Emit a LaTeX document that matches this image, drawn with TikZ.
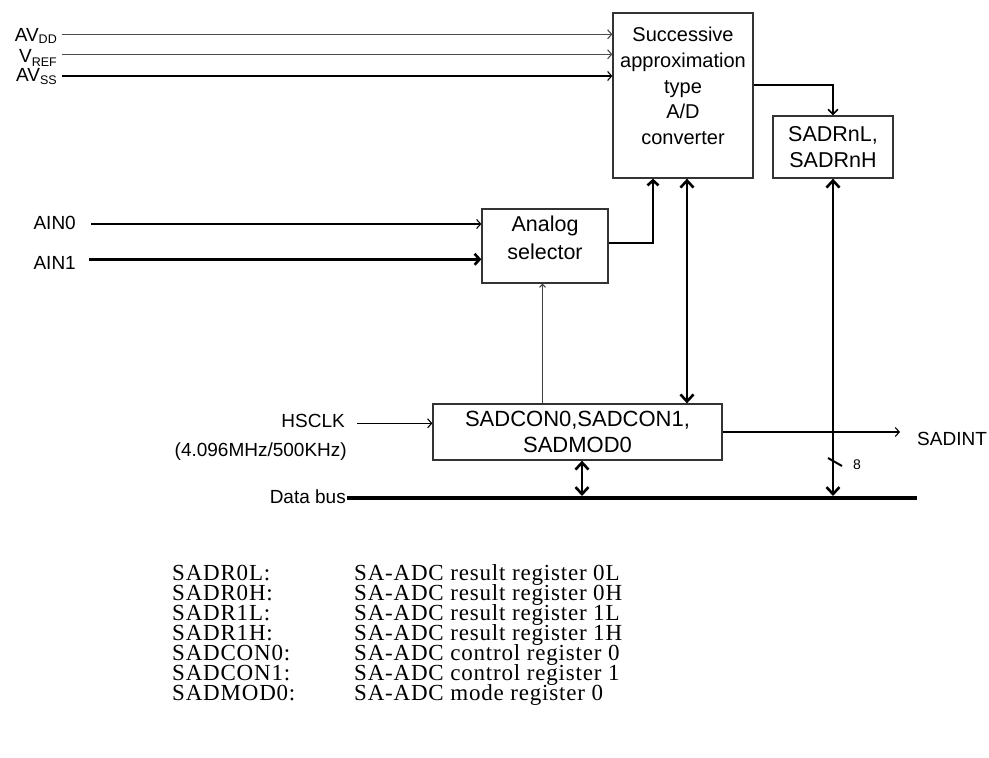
\documentclass[tikz,border=0pt]{standalone}
\usepackage{fontspec}
\setmainfont{Liberation Sans}
\newfontfamily\legendfont[LetterSpace=3.5]{Liberation Serif}
\usetikzlibrary{arrows.meta}
\newcommand\legstyle{\legendfont\fontsize{23}{20}\selectfont\lineskiplimit=-40pt\relax\lineskip=0pt\relax}
\newcommand\legrow[2]{\makebox[182pt][l]{#1}#2}
\begin{document}
\begin{tikzpicture}[x=1pt,y=-1pt,
  box/.style={draw=black!80, line width=1.3pt, inner sep=0pt},
  thinarr/.style={line width=1.1pt, -{Straight Barb[length=4pt,width=9pt]}},
  thickarr/.style={line width=2.6pt, -{Straight Barb[length=5pt,width=11pt]}},
  dblarr/.style={line width=2.6pt, {Straight Barb[length=7pt,width=13pt]}-{Straight Barb[length=7pt,width=13pt]}},
  lbl/.style={inner sep=0pt, font=\fontsize{19}{22}\selectfont},
  leg/.style={inner sep=0pt, anchor=north west, align=left, font=\legstyle},
]
\useasboundingbox (0,0) rectangle (989,758);

% boxes
\node[box, minimum width=140pt, minimum height=165pt] (adc) at (683,95.5) {};
\node[align=center, inner sep=0pt, font=\fontsize{20}{25.7}\selectfont] (adct) at (683,86)
  {Successive\\approximation\\type\\A/D\\converter};
\node[box, minimum width=120pt, minimum height=62pt, align=center,
  font=\fontsize{21.5}{26}\selectfont] (sadr) at (833,147) {SADRnL,\\SADRnH};
\node[box, minimum width=126pt, minimum height=74pt] (sel) at (545,246) {};
\node[align=center, inner sep=0pt, font=\fontsize{21.5}{28}\selectfont] (selt) at (545,238)
  {Analog\\selector};
\node[box, minimum width=289pt, minimum height=56pt, align=center,
  font=\fontsize{22}{26.7}\selectfont] (con) at (577.5,432) {SADCON0,SADCON1,\\SADMOD0};

% left labels
\node[lbl, anchor=base east] (avdd) at (57,41.7) {AV\raisebox{-2pt}{\fontsize{12.5}{12.5}\selectfont DD}};
\node[lbl, anchor=base east] (vref) at (57,62.7) {V\raisebox{-4pt}{\fontsize{12.5}{12.5}\selectfont REF}};
\node[lbl, anchor=base east] (avss) at (57,81.7) {AV\raisebox{-2.5pt}{\fontsize{12.5}{12.5}\selectfont SS}};
\coordinate (avddL) at (62,34.3);
\coordinate (vrefL) at (62,54.3);
\coordinate (avssL) at (62,76);
\draw[thinarr, draw=black!70] (avddL) -- (avddL -| adc.west);
\draw[thinarr, draw=black!70] (vrefL) -- (vrefL -| adc.west);
\draw[thinarr] (avssL) -- (avssL -| adc.west);

\node[lbl, anchor=base east] (ain0) at (76,229.3) {AIN0};
\node[lbl, anchor=base east] (ain1) at (76,269) {AIN1};
\coordinate (ain0L) at (91,224);
\coordinate (ain1L) at (89,259.3);
\draw[thinarr] (ain0L) -- (ain0L -| sel.west);
\draw[thickarr] (ain1L) -- (ain1L -| sel.west);

\node[lbl, anchor=base east] (hsclk) at (345,427.3) {HSCLK};
\node[lbl, anchor=base east] (freq) at (347,456) {(4.096MHz/500KHz)};
\coordinate (hsL) at (357,423.3);
\draw[thinarr] (hsL) -- (hsL -| con.west);

\node[lbl, anchor=base east] (dbus) at (346,503.3) {Data bus};
\coordinate (busL) at (347,498);
\coordinate (busR) at (917,498);
\draw[line width=4pt] (busL) -- (busR);

\node[lbl, anchor=base west] (sadint) at (917,445) {SADINT};
\draw[thinarr] (con.east) -- ([xshift=-17pt]sadint.west |- con.east);

% internal connections
\draw[thickarr] ([yshift=3pt]sel.east) -| ([xshift=-30pt]adc.south);
\draw[dblarr] ([xshift=4pt]adc.south) -- ([xshift=4pt]adc.south |- con.north);
\draw[line width=1.5pt, -{Straight Barb[length=5pt,width=10pt]}] ([yshift=10.5pt]adc.east) -| (sadr.north);
\draw[line width=1pt, draw=black!75, -{Straight Barb[length=3pt,width=6pt]}] ([xshift=-35pt]con.north) -- ([xshift=-35pt]con.north |- sel.south);
\draw[dblarr, shorten >=2pt] ([xshift=4.5pt]con.south) -- ([xshift=4.5pt]con.south |- busL);
\draw[dblarr, shorten >=2pt] (sadr.south) -- (sadr.south |- busL);
\draw[line width=2pt] (828,458) -- (842,466);
\node[inner sep=0pt, anchor=base west, font=\fontsize{14}{14}\selectfont] (eight) at (853,469.3) {8};

% legend
\node[leg] (legend) at (172,564.5) {%
  \legrow{SADR0L:}{SA-ADC result register 0L}\\
  \legrow{SADR0H:}{SA-ADC result register 0H}\\
  \legrow{SADR1L:}{SA-ADC result register 1L}\\
  \legrow{SADR1H:}{SA-ADC result register 1H}\\
  \legrow{SADCON0:}{SA-ADC control register 0}\\
  \legrow{SADCON1:}{SA-ADC control register 1}\\
  \legrow{SADMOD0:}{SA-ADC mode register 0}};
\end{tikzpicture}
\end{document}
